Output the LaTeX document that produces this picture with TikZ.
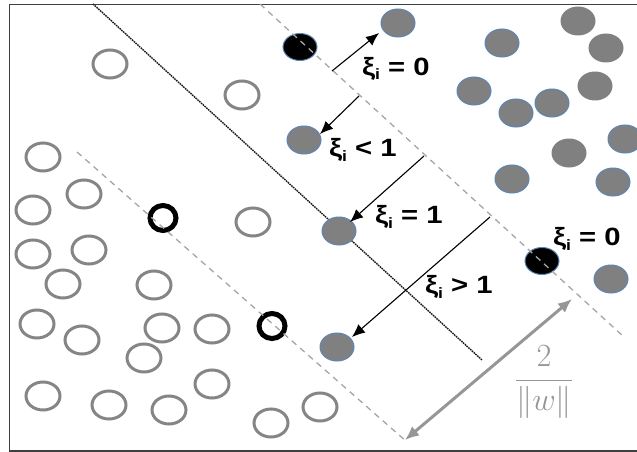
\documentclass[tikz,border=0pt]{standalone}
\usepackage{fontspec}
\setmainfont{Liberation Sans}
\usetikzlibrary{arrows.meta,shapes.geometric}
\definecolor{dotgray}{HTML}{808080}
\definecolor{rimblue}{HTML}{5B86B5}
\definecolor{opengray}{HTML}{858585}
\definecolor{dashgray}{HTML}{A6A6A6}
\definecolor{margray}{HTML}{969696}
\tikzset{
  posdot/.style={ellipse,inner sep=0pt,minimum width=35pt,minimum height=29pt,fill=dotgray},
  posrim/.style={posdot,draw=rimblue,line width=1pt,minimum width=34pt,minimum height=28pt},
  svdot/.style={ellipse,inner sep=0pt,minimum width=34pt,minimum height=27pt,fill=black,draw=rimblue,line width=1pt},
  negdot/.style={ellipse,inner sep=0pt,minimum width=34pt,minimum height=28pt,draw=opengray,line width=3pt,fill=white},
  negsv/.style={ellipse,inner sep=0pt,minimum width=26pt,minimum height=25pt,draw=black,line width=5pt,fill=white},
  marginline/.style={draw=dashgray,line width=1.3pt,dash pattern=on 6pt off 5pt},
  hyper/.style={draw=black!90,line width=1.4pt,dash pattern=on 1.6pt off 0.8pt},
  slack/.style={draw=black,line width=1.1pt,-{Latex[length=13pt,width=11pt]}},
  xilab/.style={anchor=base west,inner sep=0pt,font=\fontsize{25}{29}\selectfont\bfseries},
  widtharrow/.style={draw=margray,line width=3pt,{Latex[length=14pt,width=12pt]}-{Latex[length=14pt,width=12pt]}},
}
\newcommand{\xii}{ξ\raisebox{-5pt}{\fontsize{15}{15}\selectfont i}}
\newcommand{\xlab}[1]{\scalebox{1.17}[1]{#1}}
\begin{document}
\begin{tikzpicture}[x=1pt,y=-1pt]
\useasboundingbox (0,0) rectangle (637,452);
\begin{scope}
\clip (0,0) rectangle (637,452);
% frame
\draw[draw=black!75,line width=1.3pt] (9.5,4.5) rectangle (645,451);
% hyperplane and margins
\coordinate (h1) at (93,4);
\coordinate (h2) at (482,360);
\coordinate (u1) at (260,4);
\coordinate (u2) at (624,337);
\coordinate (l1) at (77,152);
\coordinate (l2) at (407,442);
\draw[hyper] (h1) -- (h2);
% negative class (open circles)
\foreach \n/\x/\y in {a/110/64, b/242/95, c/43/157, d/84/194, e/33/210, g/253/222,
  h/33/254, i/89/250, j/63/284, k/154/285, l/37/324, m/82/340, n/162/328, o/212/329,
  q/144/358, r/43/396, s/109/405, t/169/410, u/212/384, v/271/423, w/320/407}
  \node[negdot] (n\n) at (\x,\y) {};
\node[negsv] (nf) at (163,218) {};
\node[negsv] (np) at (272,326) {};
% positive class
\foreach \n/\x/\y in {1/398/23, 2/502/43, 5/474/91, 7/516/113, 8/552/103, 9/625/139,
  11/512/179, 12/613/182, 13/304/140, 14/339/231, 15/337/347, 16/611/279}
  \node[posrim] (p\n) at (\x,\y) {};
\foreach \n/\x/\y in {3/578/21, 4/606/48, 6/595/86, 10/569/153}
  \node[posdot] (p\n) at (\x,\y) {};
\node[svdot] (s1) at (300,47) {};
\node[svdot] (s2) at (542,261) {};
\draw[marginline] (u1) -- (u2);
\draw[marginline] (l1) -- (l2);
% slack arrows
\coordinate (a1s) at (332,71);  \coordinate (a1e) at (379,33);
\coordinate (a2s) at (359,96);  \coordinate (a2e) at (320,134);
\coordinate (a3s) at (424,156); \coordinate (a3e) at (350,222);
\coordinate (a4s) at (490,217); \coordinate (a4e) at (352,337);
\draw[slack] (a1s) -- (a1e);
\draw[slack] (a2s) -- (a2e);
\draw[slack] (a3s) -- (a3e);
\draw[slack] (a4s) -- (a4e);
% labels
\node[xilab] (t1) at (362,75) {\xlab{\xii\ = 0}};
\node[xilab] (t2) at (329,156) {\xlab{\xii\ < 1}};
\node[xilab] (t3) at (375,223) {\xlab{\xii\ = 1}};
\node[xilab] (t4) at (425,293) {\xlab{\xii\ > 1}};
\node[xilab] (t5) at (553,245) {\xlab{\xii\ = 0}};
% margin width
\coordinate (w1) at (405,440);
\coordinate (w2) at (572,299);
\draw[widtharrow] (w1) -- (w2);
\node[text=margray,inner sep=0pt,font=\fontsize{24}{28}\selectfont] (wl) at (544,382)
  {\scalebox{1.3}{$\displaystyle\frac{2}{\|w\|}$}};
\end{scope}
\end{tikzpicture}
\end{document}
